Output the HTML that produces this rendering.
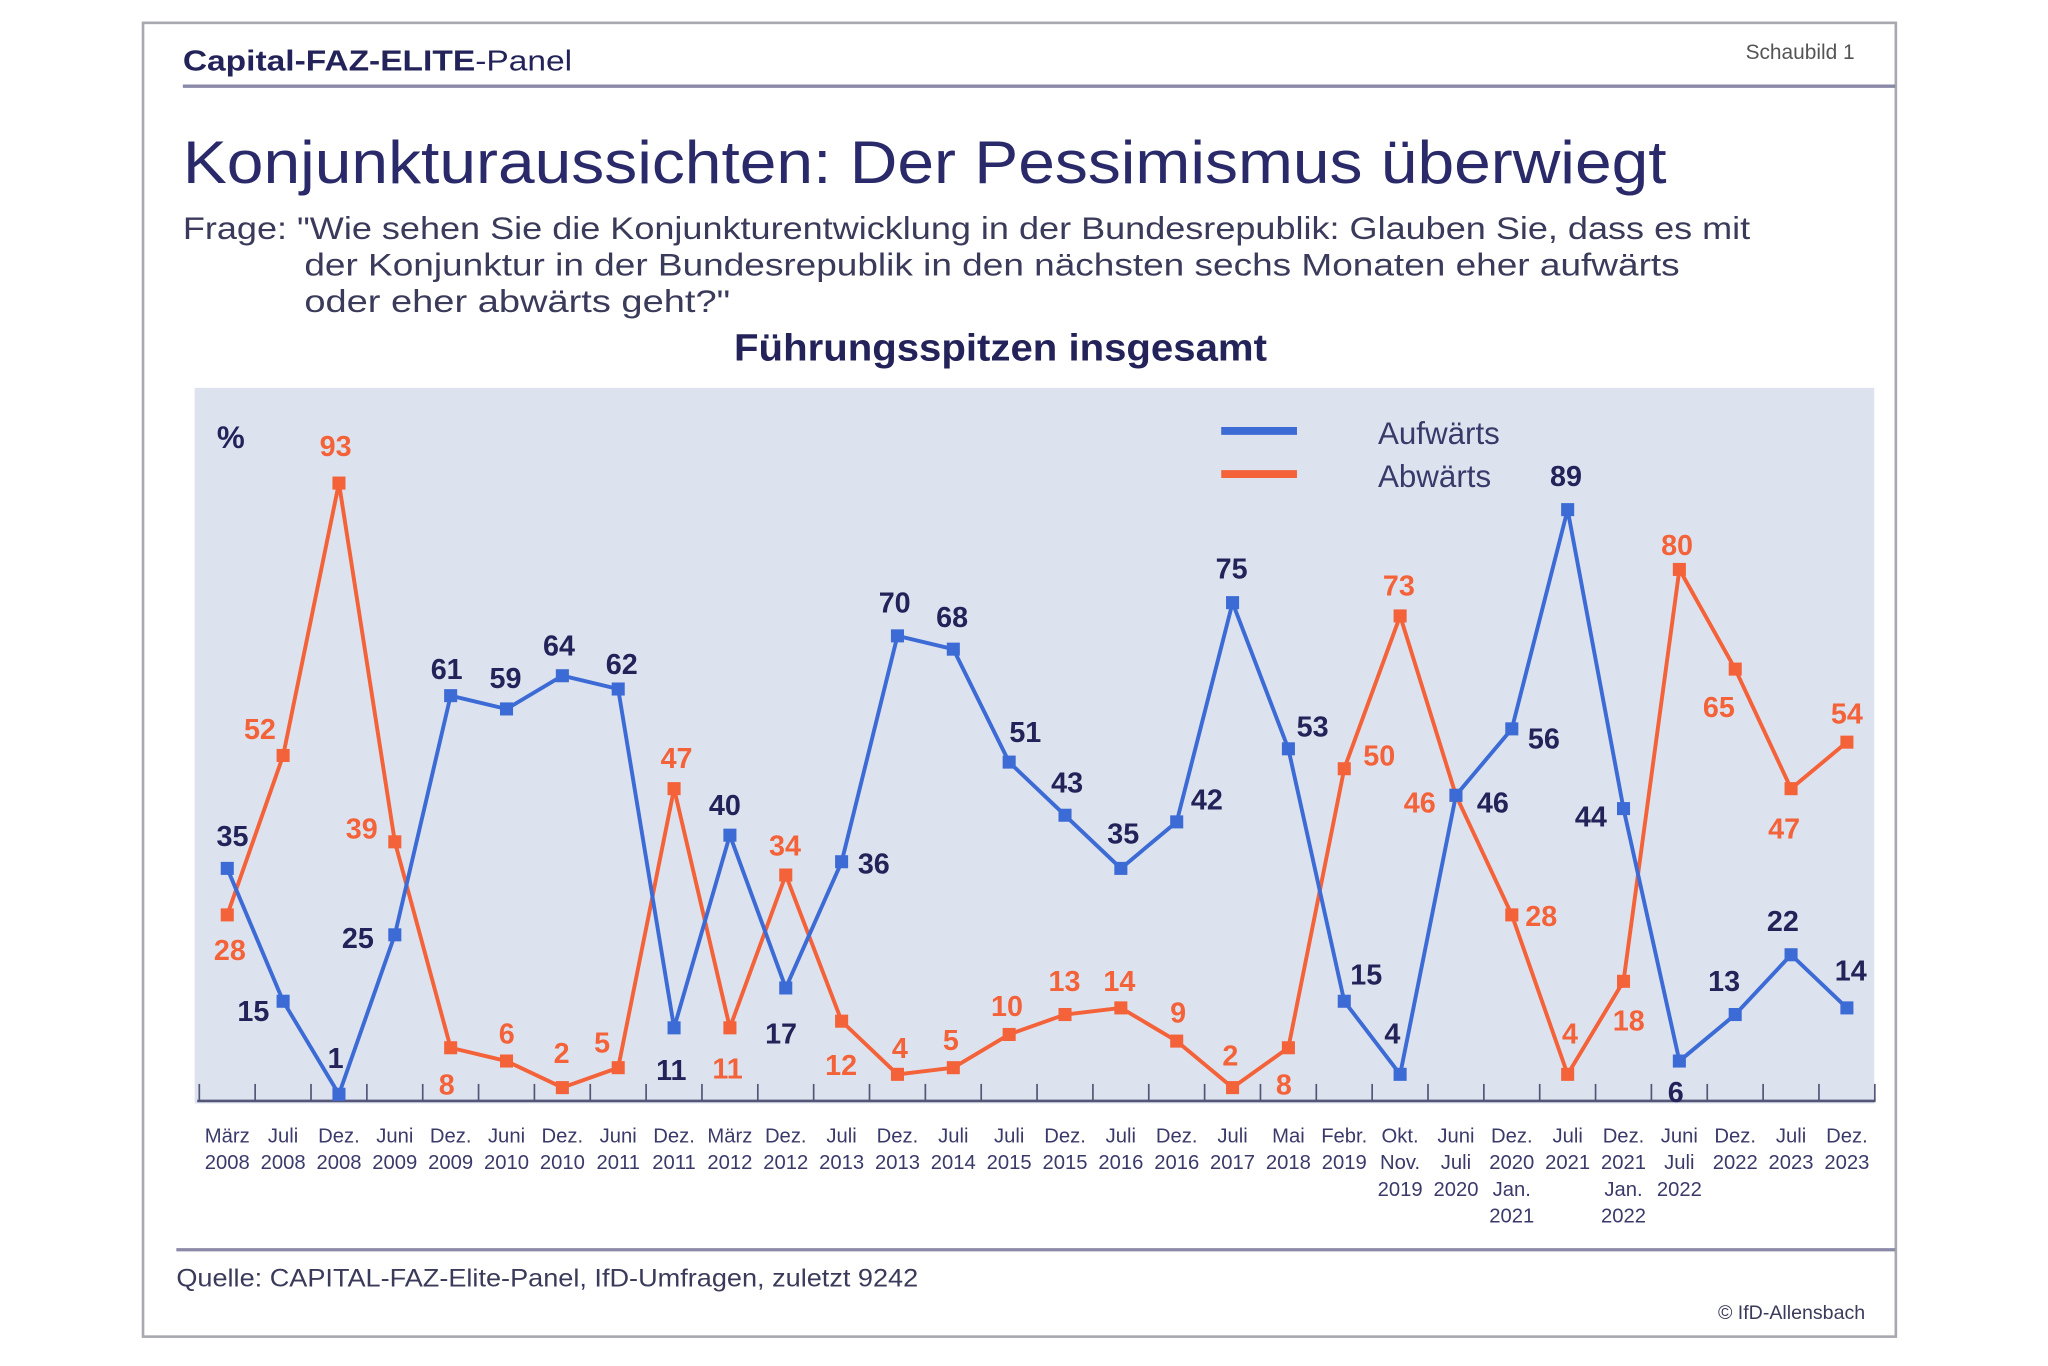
<!DOCTYPE html>
<html><head><meta charset="utf-8"><style>
html,body{margin:0;padding:0;background:#fff;}
svg{display:block;}
text{font-family:"Liberation Sans",sans-serif;}
</style></head><body>
<svg id="s" width="2048" height="1366" viewBox="0 0 1568 1046" preserveAspectRatio="none" xmlns="http://www.w3.org/2000/svg">
<rect x="0" y="0" width="1568" height="1046" fill="#fff"/>
<rect x="109.5" y="17.5" width="1342" height="1006" fill="#fff" stroke="#a8a8b0" stroke-width="2"/>
<text x="140" y="54" font-size="22" fill="#23235a" font-weight="bold" textLength="298" lengthAdjust="spacingAndGlyphs">Capital-FAZ-ELITE<tspan font-weight="normal">-Panel</tspan></text>
<text x="1420" y="45" font-size="16" fill="#555" text-anchor="end">Schaubild  1</text>
<line x1="140" y1="66" x2="1451" y2="66" stroke="#8a8aa8" stroke-width="2.5"/>
<text x="140" y="140" font-size="46" fill="#2a2a6a" textLength="1136" lengthAdjust="spacingAndGlyphs">Konjunkturaussichten: Der Pessimismus überwiegt</text>
<g font-size="24" fill="#3a3a5a">
<text x="140" y="183" textLength="1200" lengthAdjust="spacingAndGlyphs">Frage: "Wie sehen Sie die Konjunkturentwicklung in der Bundesrepublik: Glauben Sie, dass es mit</text>
<text x="233" y="211" textLength="1053" lengthAdjust="spacingAndGlyphs">der Konjunktur in der Bundesrepublik in den nächsten sechs Monaten eher aufwärts</text>
<text x="233" y="239" textLength="326" lengthAdjust="spacingAndGlyphs">oder eher abwärts geht?"</text>
</g>
<text x="766" y="276" font-size="29" font-weight="bold" fill="#23235a" text-anchor="middle" textLength="408" lengthAdjust="spacingAndGlyphs">Führungsspitzen insgesamt</text>
<rect x="149" y="297" width="1286" height="548" fill="#dde3ee"/>
<text x="166" y="343" font-size="24" font-weight="bold" fill="#23235a">%</text>
<line x1="935" y1="330" x2="993" y2="330" stroke="#3d6bd6" stroke-width="6"/>
<line x1="935" y1="363" x2="993" y2="363" stroke="#f4623a" stroke-width="6"/>
<text x="1055" y="340" font-size="24" fill="#3a3a6a">Aufwärts</text>
<text x="1055" y="373" font-size="24" fill="#3a3a6a">Abwärts</text>
<g id="g"></g>
<line x1="135" y1="957" x2="1451" y2="957" stroke="#8a8aa8" stroke-width="2.5"/>
<text x="135" y="985" font-size="19" fill="#3a3a5a" textLength="568" lengthAdjust="spacingAndGlyphs">Quelle: CAPITAL-FAZ-Elite-Panel, IfD-Umfragen, zuletzt 9242</text>
<text x="1428" y="1010" font-size="15" fill="#3a3a5a" text-anchor="end">© IfD-Allensbach</text>
</svg>
<script>
var NS="http://www.w3.org/2000/svg",g=document.getElementById("g");
function el(t,a,txt){var e=document.createElementNS(NS,t);for(var k in a)e.setAttribute(k,a[k]);if(txt!=null)e.textContent=txt;g.appendChild(e);return e;}
function X(i){return 174+42.76*i;} function Y(v){return 843-5.087*v;}
el("line",{x1:151,y1:843,x2:1436,y2:843,stroke:"#555577","stroke-width":2});
for(var k=0;k<=30;k++){var tx=152.6+42.76*k;el("line",{x1:tx,y1:830,x2:tx,y2:843,stroke:"#555577","stroke-width":1.3});}
var B=[35,15,1,25,61,59,64,62,11,40,17,36,70,68,51,43,35,42,75,53,15,4,46,56,89,44,6,13,22,14];
var O=[28,52,93,39,8,6,2,5,47,11,34,12,4,5,10,13,14,9,2,8,50,73,46,28,4,18,80,65,47,54];
function series(d,c){var p=d.map(function(v,i){return X(i).toFixed(1)+","+Y(v).toFixed(1)}).join(" ");
el("polyline",{points:p,fill:"none",stroke:c,"stroke-width":3,"stroke-linejoin":"round"});
d.forEach(function(v,i){el("rect",{x:X(i)-5,y:Y(v)-5,width:10,height:10,fill:c});});}
series(O,"#f4623a");series(B,"#3d6bd6");
var BL=[[178,640],[194,774],[257,810],[274,718],[342,512],[387,519],[428,494],[476,508],[514,819],[555,616],[598,791],[669,661],[685,461],[729,472],[785,560],[817,599],[860,638],[924,612],[943,435],[1005,556],[1046,746],[1066,791],[1143,614],[1182,565],[1199,364],[1218,625],[1283,836],[1320,751],[1365,705],[1417,743]];
var OL=[[176,727],[199,558],[257,341],[277,634],[342,830],[388,791],[430,806],[461,798],[518,580],[557,818],[601,647],[644,815],[689,802],[728,796],[771,770],[815,751],[857,751],[902,775],[942,808],[983,830],[1056,578],[1071,448],[1087,614],[1180,701],[1202,791],[1247,781],[1284,417],[1316,541],[1366,634],[1414,546]];
B.forEach(function(v,i){el("text",{x:BL[i][0],y:BL[i][1]+8,"font-size":22,"font-weight":"bold",fill:"#23235a","text-anchor":"middle"},v);});
O.forEach(function(v,i){el("text",{x:OL[i][0],y:OL[i][1]+8,"font-size":22,"font-weight":"bold",fill:"#f4623a","text-anchor":"middle"},v);});
var L=[["März","2008"],["Juli","2008"],["Dez.","2008"],["Juni","2009"],["Dez.","2009"],["Juni","2010"],["Dez.","2010"],["Juni","2011"],["Dez.","2011"],["März","2012"],["Dez.","2012"],["Juli","2013"],["Dez.","2013"],["Juli","2014"],["Juli","2015"],["Dez.","2015"],["Juli","2016"],["Dez.","2016"],["Juli","2017"],["Mai","2018"],["Febr.","2019"],["Okt.","Nov.","2019"],["Juni","Juli","2020"],["Dez.","2020","Jan.","2021"],["Juli","2021"],["Dez.","2021","Jan.","2022"],["Juni","Juli","2022"],["Dez.","2022"],["Juli","2023"],["Dez.","2023"]];
var LY=[875,895,916,936];
L.forEach(function(a,i){a.forEach(function(s,j){el("text",{x:X(i),y:LY[j],"font-size":15.5,fill:"#3a3a6a","text-anchor":"middle"},s);});});
</script>
</body></html>
